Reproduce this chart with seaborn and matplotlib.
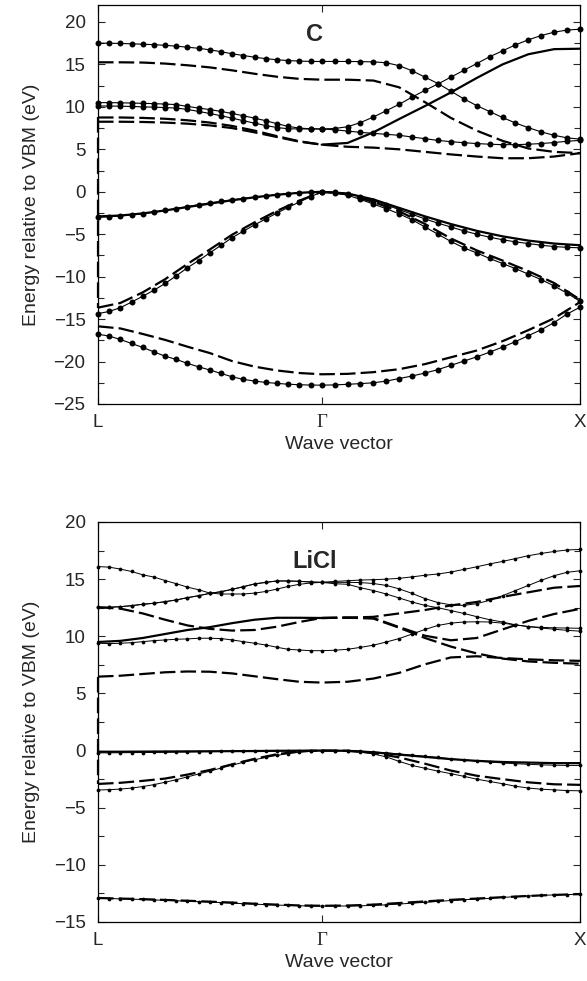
import numpy as np
import pandas as pd
import matplotlib
matplotlib.use("Agg")
import matplotlib.pyplot as plt
import seaborn as sns
from matplotlib.ticker import MultipleLocator

sns.set_theme(style="ticks")
plt.rcParams['font.family'] = ['Liberation Sans', 'DejaVu Sans']

# ---------------- k-path ----------------
k_labels = ["L", "\u0393", "X"]
seg_len = [0.866, 1.0]          # |L-Gamma|, |Gamma-X| (2pi/a)

# ================= C (diamond) =================
# dotted bands: 21 points L->Gamma + 20 points Gamma->X
C_dot1 = [17.5, 17.5, 17.47, 17.43, 17.38, 17.33, 17.25, 17.15, 17.03, 16.9, 16.72, 16.5, 16.25, 16.05, 15.85, 15.68, 15.55, 15.45, 15.4, 15.35, 15.35,
          15.35, 15.35, 15.33, 15.3, 15.2, 14.85, 14.25, 13.5, 12.75, 11.85, 10.95, 10.15, 9.45, 8.75, 8.1, 7.55, 7.05, 6.65, 6.35, 6.2]
C_dot2 = [10.5, 10.5, 10.48, 10.45, 10.42, 10.38, 10.33, 10.27, 10.05, 9.86, 9.68, 9.46, 9.22, 8.95, 8.67, 8.37, 8.02, 7.7, 7.5, 7.42, 7.4,
          7.45, 7.66, 8.15, 8.8, 9.55, 10.3, 11.15, 11.95, 12.7, 13.5, 14.3, 15.1, 15.9, 16.6, 17.3, 17.9, 18.4, 18.8, 19.05, 19.15]
C_dot3 = [10.1, 10.1, 10.08, 10.05, 10.0, 9.97, 9.92, 9.86, 9.7, 9.46, 9.22, 8.95, 8.67, 8.37, 8.08, 7.8, 7.57, 7.42, 7.4, 7.4, 7.4,
          7.3, 7.15, 7.0, 6.88, 6.77, 6.65, 6.45, 6.25, 6.05, 5.9, 5.78, 5.68, 5.6, 5.55, 5.55, 5.6, 5.68, 5.8, 5.95, 6.05]
C_dot4 = [-3.0, -2.95, -2.85, -2.72, -2.58, -2.4, -2.2, -1.98, -1.75, -1.52, -1.3, -1.12, -0.95, -0.8, -0.65, -0.5, -0.37, -0.25, -0.14, -0.05, 0.0,
          -0.05, -0.25, -0.6, -1.05, -1.55, -2.1, -2.65, -3.2, -3.7, -4.15, -4.6, -5.0, -5.35, -5.65, -5.9, -6.1, -6.3, -6.45, -6.55, -6.6]
C_dot5 = [-14.35, -14.1, -13.65, -13.0, -12.3, -11.6, -10.8, -9.9, -8.95, -8.1, -7.2, -6.3, -5.4, -4.64, -3.9, -3.2, -2.5, -1.85, -1.2, -0.6, 0.0,
          -0.1, -0.4, -0.9, -1.45, -2.0, -2.6, -3.3, -4.15, -5.0, -5.85, -6.6, -7.2, -7.85, -8.45, -9.05, -9.7, -10.35, -11.1, -11.95, -12.9]
C_dot6 = [-16.78, -17.0, -17.4, -17.87, -18.34, -18.86, -19.37, -19.75, -20.22, -20.62, -21.0, -21.4, -21.8, -22.1, -22.3, -22.46, -22.57, -22.67, -22.73, -22.77, -22.78,
          -22.75, -22.68, -22.6, -22.5, -22.3, -22.0, -21.7, -21.35, -20.95, -20.45, -19.95, -19.45, -18.9, -18.3, -17.65, -16.95, -16.25, -15.4, -14.4, -13.6]
# dashed / solid bands: 11 points L->Gamma + 10 points Gamma->X
C_dash1 = [15.25, 15.25, 15.22, 15.1, 14.9, 14.65, 14.3, 13.9, 13.55, 13.3, 13.2,
           13.2, 13.1, 12.3, 10.55, 8.7, 7.2, 6.0, 5.1, 4.7, 4.55]
C_dash2 = [8.75, 8.75, 8.7, 8.6, 8.42, 8.15, 7.75, 7.2, 6.55, 5.95, 5.55,
           5.3, 5.2, 5.0, 4.7, 4.4, 4.15, 3.95, 3.95, 4.15, 4.55]
C_dash3_LG = [8.25, 8.25, 8.22, 8.15, 8.02, 7.82, 7.5, 7.0, 6.45, 5.9, 5.55]
C_dash4 = [-13.65, -13.1, -11.85, -10.3, -8.5, -6.8, -5.05, -3.6, -2.25, -1.05, 0.0,
           -0.3, -1.2, -2.3, -3.8, -5.5, -6.9, -8.1, -9.35, -10.75, -12.7]
C_dash5 = [-15.85, -16.1, -16.75, -17.45, -18.25, -19.0, -19.95, -20.6, -21.05, -21.35, -21.5,
           -21.45, -21.25, -20.9, -20.3, -19.5, -18.7, -17.6, -16.3, -14.9, -13.0]
C_solid1_GX = [5.55, 5.75, 7.0, 8.57, 10.1, 11.7, 13.4, 15.0, 16.2, 16.8, 16.85]
C_solid2 = [-2.9, -2.8, -2.55, -2.2, -1.8, -1.4, -1.0, -0.65, -0.35, -0.12, 0.0,
            -0.2, -0.9, -1.9, -2.9, -3.8, -4.6, -5.25, -5.75, -6.1, -6.3]

# ================= LiCl =================
L_dot1 = [16.1, 16.05, 15.88, 15.67, 15.38, 15.18, 14.88, 14.6, 14.3, 14.07, 13.78, 13.7, 13.7, 13.7, 13.78, 13.92, 14.13, 14.36, 14.55, 14.66, 14.72,
          14.8, 14.86, 14.92, 14.95, 15.0, 15.07, 15.2, 15.34, 15.45, 15.62, 15.85, 16.08, 16.33, 16.55, 16.8, 17.05, 17.25, 17.42, 17.55, 17.6]
L_dot2 = [12.54, 12.54, 12.59, 12.68, 12.8, 12.89, 13.03, 13.18, 13.38, 13.55, 13.76, 13.9, 14.11, 14.34, 14.58, 14.72, 14.84, 14.84, 14.81, 14.75, 14.72,
          14.72, 14.72, 14.7, 14.62, 14.45, 14.15, 13.75, 13.3, 12.95, 12.75, 12.7, 12.85, 13.15, 13.55, 14.0, 14.45, 14.9, 15.3, 15.6, 15.73]
L_dot3 = [12.54, 12.54, 12.59, 12.68, 12.8, 12.89, 13.03, 13.18, 13.38, 13.55, 13.76, 13.9, 14.11, 14.34, 14.58, 14.72, 14.84, 14.84, 14.81, 14.75, 14.72,
          14.6, 14.55, 14.25, 14.0, 13.7, 13.35, 13.0, 12.7, 12.5, 12.25, 12.0, 11.72, 11.45, 11.25, 11.0, 10.85, 10.78, 10.74, 10.72, 10.7]
L_dot4 = [9.39, 9.36, 9.39, 9.44, 9.53, 9.62, 9.68, 9.74, 9.77, 9.83, 9.83, 9.8, 9.68, 9.53, 9.39, 9.24, 9.04, 8.86, 8.8, 8.74, 8.74,
          8.78, 8.86, 9.03, 9.22, 9.5, 9.8, 10.2, 10.6, 10.95, 11.15, 11.25, 11.27, 11.25, 11.15, 11.0, 10.85, 10.72, 10.62, 10.52, 10.45]
L_dot5 = [-0.2, -0.2, -0.19, -0.18, -0.17, -0.16, -0.15, -0.13, -0.12, -0.1, -0.09, -0.08, -0.07, -0.06, -0.05, -0.04, -0.03, -0.02, -0.01, 0.0, 0.0,
          0.0, -0.01, -0.05, -0.12, -0.2, -0.3, -0.4, -0.5, -0.6, -0.72, -0.82, -0.92, -1.0, -1.08, -1.15, -1.2, -1.25, -1.28, -1.3, -1.3]
L_dot6 = [-3.45, -3.42, -3.37, -3.28, -3.15, -2.98, -2.77, -2.55, -2.3, -2.05, -1.8, -1.53, -1.27, -1.03, -0.8, -0.6, -0.42, -0.27, -0.15, -0.06, 0.0,
          0.0, -0.02, -0.12, -0.3, -0.55, -0.95, -1.3, -1.55, -1.8, -2.02, -2.25, -2.5, -2.7, -2.9, -3.12, -3.28, -3.38, -3.44, -3.5, -3.52]
L_dot7 = [-12.93, -12.95, -12.97, -13.0, -13.03, -13.07, -13.1, -13.14, -13.18, -13.22, -13.26, -13.3, -13.35, -13.4, -13.44, -13.48, -13.52, -13.55, -13.58, -13.6, -13.6,
          -13.6, -13.6, -13.58, -13.55, -13.5, -13.43, -13.35, -13.28, -13.2, -13.12, -13.05, -13.0, -12.93, -12.85, -12.78, -12.72, -12.67, -12.63, -12.6, -12.58]
L_solid1 = [-0.1, -0.1, -0.09, -0.08, -0.07, -0.06, -0.05, -0.04, -0.02, -0.01, 0.0,
            -0.02, -0.15, -0.35, -0.55, -0.75, -0.9, -1.0, -1.05, -1.1, -1.1]
L_dash2 = [-2.92, -2.82, -2.65, -2.45, -2.1, -1.7, -1.2, -0.72, -0.32, -0.06, 0.0,
           -0.02, -0.2, -0.6, -1.15, -1.75, -2.2, -2.5, -2.78, -2.95, -3.0]
L_dash3 = [-12.9, -12.95, -13.0, -13.07, -13.14, -13.22, -13.3, -13.4, -13.48, -13.55, -13.58,
           -13.56, -13.48, -13.34, -13.2, -13.06, -12.95, -12.83, -12.72, -12.63, -12.56]
L_dash4 = [12.54, 12.42, 12.0, 11.45, 10.95, 10.65, 10.5, 10.55, 10.84, 11.25, 11.6,
           11.63, 11.7, 12.0, 12.3, 12.7, 13.0, 13.45, 13.85, 14.25, 14.4]
L_solid5_LG = [9.5, 9.6, 9.85, 10.2, 10.55, 10.8, 11.15, 11.45, 11.62, 11.62, 11.6]
L_dash6 = [6.47, 6.55, 6.7, 6.85, 6.92, 6.9, 6.75, 6.5, 6.25, 6.02, 5.95,
           6.02, 6.3, 6.8, 7.55, 8.15, 8.25, 8.1, 7.98, 7.9, 7.85]
L_dash7_GX = [11.6, 11.63, 11.55, 10.75, 9.85, 9.1, 8.5, 8.05, 7.8, 7.68, 7.6]
L_dash8_GX = [11.6, 11.63, 11.6, 10.8, 10.05, 9.65, 9.85, 10.6, 11.35, 11.95, 12.4]


def kgrid(values, seg):
    kG = seg_len[0]
    kX = seg_len[0] + seg_len[1]
    n = len(values) - 1
    if seg == "LX":
        n //= 2
        lg = np.linspace(0.0, kG, n + 1)
        gx = np.linspace(kG, kX, n + 1)
        return np.concatenate([lg, gx[1:]])
    if seg == "LG":
        return np.linspace(0.0, kG, n + 1)
    return np.linspace(kG, kX, n + 1)


def build(bands):
    rows = []
    for name, vals, seg, style in bands:
        for k, e in zip(kgrid(vals, seg), vals):
            rows.append((name, k, e, style))
    return pd.DataFrame(rows, columns=["band", "k", "E", "style"])


C_bands = [
    ("d1", C_dot1, "LX", "dot"), ("d2", C_dot2, "LX", "dot"), ("d3", C_dot3, "LX", "dot"),
    ("d4", C_dot4, "LX", "dot"), ("d5", C_dot5, "LX", "dot"), ("d6", C_dot6, "LX", "dot"),
    ("b1", C_dash1, "LX", "dash"), ("b2", C_dash2, "LX", "dash"), ("b3", C_dash3_LG, "LG", "dash"),
    ("b4", C_dash4, "LX", "dash"), ("b5", C_dash5, "LX", "dash"),
    ("s1", C_solid1_GX, "GX", "solid"), ("s2", C_solid2, "LX", "solid"),
]
LiCl_bands = [
    ("d1", L_dot1, "LX", "dot"), ("d2", L_dot2, "LX", "dot"), ("d3", L_dot3, "LX", "dot"),
    ("d4", L_dot4, "LX", "dot"), ("d5", L_dot5, "LX", "dot"), ("d6", L_dot6, "LX", "dot"),
    ("d7", L_dot7, "LX", "dot"),
    ("s1", L_solid1, "LX", "solid"), ("b2", L_dash2, "LX", "dash"), ("b3", L_dash3, "LX", "dash"),
    ("b4", L_dash4, "LX", "dash"), ("s5", L_solid5_LG, "LG", "solid"), ("b6", L_dash6, "LX", "dash"),
    ("b7", L_dash7_GX, "GX", "dash"), ("b8", L_dash8_GX, "GX", "dash"),
]

DASH = (0, (7, 2.3))


def draw(ax, bands, ms, dot_lw, vert_from, vert_to, title, title_y, ylim):
    df = build(bands)
    styles = {
        "dot": dict(lw=dot_lw, marker="o", markersize=ms, markerfacecolor="black",
                    markeredgecolor="black", markeredgewidth=0),
        "dash": dict(lw=1.6, linestyle=DASH),
        "solid": dict(lw=1.6),
    }
    for st, kws in styles.items():
        sub = df[df["style"] == st]
        sns.lineplot(data=sub, x="k", y="E", units="band", estimator=None, sort=False,
                     color="black", ax=ax, legend=False, clip_on=False, **kws)
    # connecting dashed segment at L (continuous-path artefact of the original)
    vdf = pd.DataFrame({"k": [0.0, 0.0], "E": [vert_from, vert_to]})
    sns.lineplot(data=vdf, x="k", y="E", estimator=None, sort=False, color="black",
                 ax=ax, lw=1.6, linestyle=DASH, clip_on=False, legend=False)

    kX = seg_len[0] + seg_len[1]
    ax.set_xlim(0, kX)
    ax.set_ylim(*ylim)
    ax.set_xticks([0, seg_len[0], kX])
    ax.set_xticklabels(k_labels, fontsize=13.5)
    ax.get_xticklabels()[1].set_fontfamily("Liberation Serif")
    ax.yaxis.set_major_locator(MultipleLocator(5))
    ax.yaxis.set_minor_locator(MultipleLocator(2.5))
    ax.tick_params(axis="y", which="major", direction="in", left=True, right=True,
                   length=5, width=0.8, labelsize=13.5, pad=9)
    ax.tick_params(axis="y", which="minor", direction="in", left=True, right=True,
                   length=4, width=0.8)
    ax.tick_params(axis="x", which="major", direction="in", top=True, bottom=True,
                   length=5, width=0.8, pad=7)
    for sp in ax.spines.values():
        sp.set_linewidth(0.9)
        sp.set_color("black")
    ax.set_xlabel("Wave vector", fontsize=14, labelpad=4)
    ax.set_ylabel("Energy relative to VBM (eV)", fontsize=14, labelpad=10)
    ax.text(0.45, title_y, title, transform=ax.transAxes, fontsize=17,
            fontweight="bold", ha="center", va="center")


fig = plt.figure(figsize=(5.87, 9.81), dpi=100)
ax1 = fig.add_axes([98 / 587, 1 - 404 / 981, 482 / 587, 399 / 981])
ax2 = fig.add_axes([98 / 587, 1 - 922 / 981, 482 / 587, 400 / 981])

draw(ax1, C_bands, 4.3, 0.8, C_dash2[0], C_dash4[0], "C", 0.926, (-25, 22))
draw(ax2, LiCl_bands, 2.7, 0.7, L_dash6[0], L_dash2[0], "LiCl", 0.9, (-15, 20))

fig.savefig("out.png", dpi=100)
